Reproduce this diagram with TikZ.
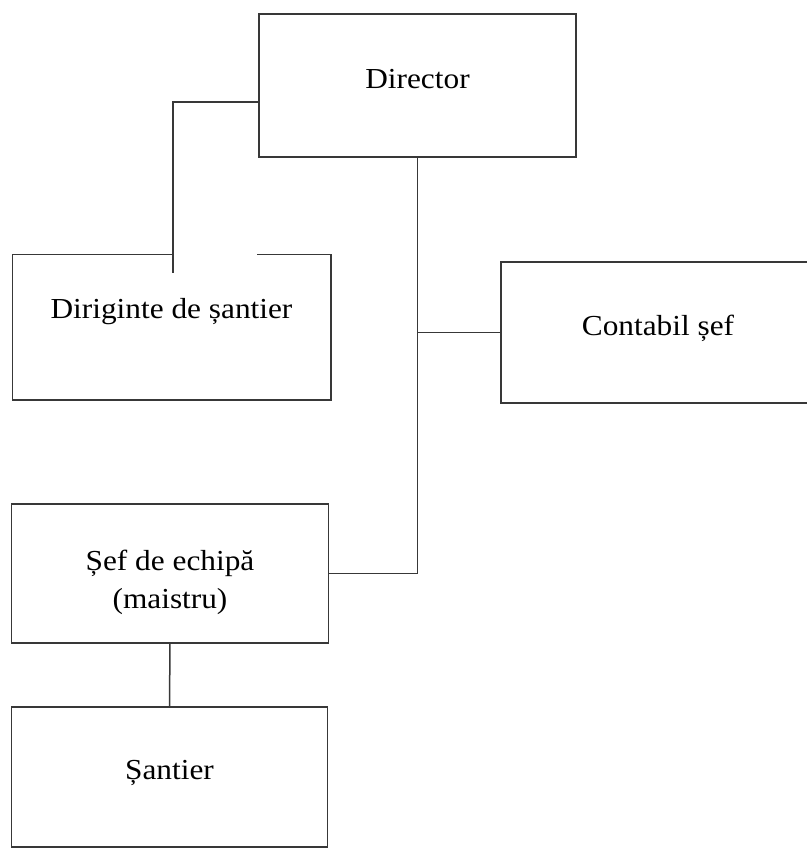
\documentclass[tikz,border=0pt]{standalone}
\usepackage{fontspec}
\setmainfont{Liberation Serif}[FakeStretch=1.08]
\usepackage{tikz}
\usetikzlibrary{positioning, calc}

\begin{document}
\begin{tikzpicture}[
  x=0.5pt, y=-0.5pt,
  orgbox/.style={draw=black!78, line width=0.75pt, rectangle, align=center,
                 minimum width=158.5pt, minimum height=71pt, inner sep=0pt,
                 text height=7pt, text depth=4.5pt,
                 font=\fontsize{14.5}{19}\selectfont},
  link/.style={draw=black!78, line width=0.75pt}
]
\useasboundingbox (0,0) rectangle (807,848);

\node[orgbox, minimum height=71.5pt] (director) at (417.5,85.5) {Director};
\node[orgbox, draw=none, minimum height=72pt, text height=3pt, text depth=12pt] (dirig) at (171.5,327) {Diriginte de șantier};
\node[orgbox, minimum width=157pt, minimum height=70.5pt] (contabil) at (658,332.5) {Contabil șef};
\node[orgbox, minimum height=69.5pt, text height=38pt, text depth=3.5pt] (sef) at (170,573.5) {Șef de echipă\\(maistru)};
\node[orgbox, minimum width=158pt, minimum height=70pt] (santier) at (169.5,777) {Șantier};

% outline of the site manager box, open at the top
\draw[link] ([xshift=42.75pt]dirig.north) -- (dirig.north east) |- (dirig.south west) |- (dirig.north);

\coordinate (dirstub) at (173,273);

% connectors
\draw[link] ([yshift=-8.25pt]director.west) -| (dirstub);
\draw[link] (director.south) |- (sef.east);
\draw[link] (contabil.west) -- (contabil.west -| director.south);
\draw[link] (sef.south) -- (santier.north);
\end{tikzpicture}
\end{document}
